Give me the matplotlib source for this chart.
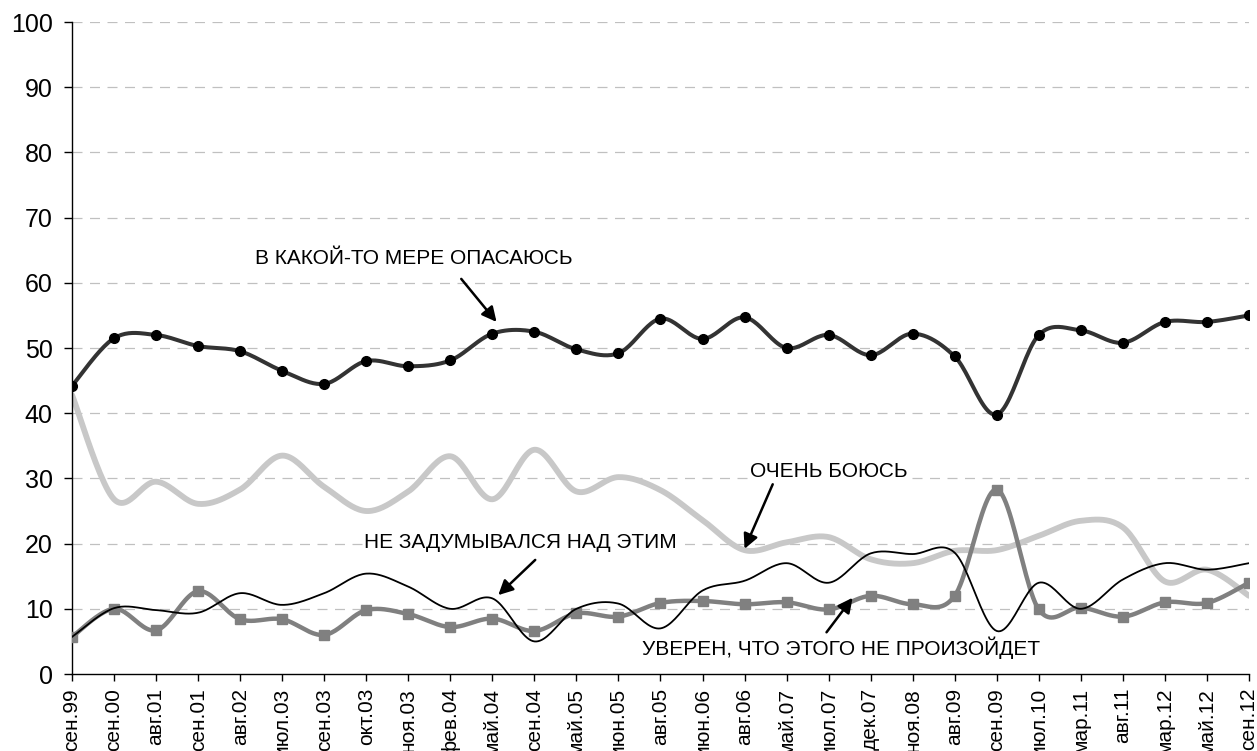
import numpy as np
import matplotlib
matplotlib.use("Agg")
import matplotlib.pyplot as plt

plt.rcParams['font.family'] = ['Liberation Sans', 'DejaVu Sans']

# подписи по оси X
labels = ['сен.99', 'сен.00', 'авг.01', 'сен.01', 'авг.02', 'июл.03', 'сен.03',
          'окт.03', 'ноя.03', 'фев.04', 'май.04', 'сен.04', 'май.05', 'июн.05',
          'авг.05', 'июн.06', 'авг.06', 'май.07', 'июл.07', 'дек.07', 'ноя.08',
          'авг.09', 'сен.09', 'июл.10', 'мар.11', 'авг.11', 'мар.12', 'май.12',
          'сен.12']

# В КАКОЙ-ТО МЕРЕ ОПАСАЮСЬ
somewhat = [44.2, 51.5, 52.0, 50.3, 49.5, 46.5, 44.5, 48.0, 47.2, 48.1,
            52.2, 52.5, 49.8, 49.2, 54.5, 51.4, 54.7, 50.0, 52.0, 48.9,
            52.2, 48.7, 39.8, 52.0, 52.7, 50.8, 54.0, 54.0, 55.0]
# ОЧЕНЬ БОЮСЬ
very = [42.8, 26.8, 29.5, 26.1, 28.3, 33.5, 28.7, 25.0, 28.0, 33.4,
        26.8, 34.4, 28.0, 30.2, 28.2, 23.6, 19.0, 20.2, 21.0, 17.6,
        17.0, 18.9, 19.0, 21.2, 23.5, 22.5, 14.2, 16.0, 12.0]
# УВЕРЕН, ЧТО ЭТОГО НЕ ПРОИЗОЙДЕТ
sure_not = [5.7, 10.0, 6.7, 12.7, 8.4, 8.4, 6.0, 9.8, 9.2, 7.2,
            8.5, 6.6, 9.3, 8.8, 10.9, 11.2, 10.7, 11.0, 9.9, 12.0,
            10.7, 12.0, 28.3, 9.9, 10.2, 8.8, 11.0, 10.9, 14.0]
# НЕ ЗАДУМЫВАЛСЯ НАД ЭТИМ
not_thought = [5.7, 10.1, 9.8, 9.4, 12.4, 10.6, 12.4, 15.4, 13.4, 10.0,
               11.6, 5.0, 10.0, 10.8, 7.0, 12.8, 14.3, 17.0, 14.0, 18.5,
               18.4, 18.6, 6.6, 14.0, 10.0, 14.5, 17.0, 16.0, 17.0]


def smooth(x, y, n=24):
    # сглаженная линия как в Excel (кривые Безье через точки)
    p = np.column_stack([x, y]).astype(float)
    p = np.vstack([p[0], p, p[-1]])
    out = []
    t = np.linspace(0, 1, n)[:, None]
    for i in range(1, len(p) - 2):
        p0, p1, p2, p3 = p[i - 1], p[i], p[i + 1], p[i + 2]
        c1 = p1 + (p2 - p0) / 6
        c2 = p2 - (p3 - p1) / 6
        seg = ((1 - t) ** 3) * p1 + 3 * ((1 - t) ** 2) * t * c1 + 3 * (1 - t) * t ** 2 * c2 + t ** 3 * p2
        out.append(seg if i == 1 else seg[1:])
    out = np.vstack(out)
    return out[:, 0], out[:, 1]


x = np.arange(len(labels))

fig = plt.figure(figsize=(12.57, 7.51), dpi=100)
ax = fig.add_axes([0.0573, 0.1025, 0.9363, 0.8682])

sx, sy = smooth(x, very)
ax.plot(sx, sy, color='#c8c8c8', lw=4.2, solid_capstyle='round', zorder=2)

sx, sy = smooth(x, sure_not)
ax.plot(sx, sy, color='#808080', lw=3.2, zorder=3)
ax.plot(x, sure_not, ls='none', marker='s', ms=7, color='#808080', zorder=3)

sx, sy = smooth(x, not_thought)
ax.plot(sx, sy, color='black', lw=1.3, zorder=4)

sx, sy = smooth(x, somewhat)
ax.plot(sx, sy, color='#333333', lw=2.9, zorder=5)
ax.plot(x, somewhat, ls='none', marker='o', ms=7, color='black', zorder=6)

ax.set_xlim(0, len(labels) - 1)
ax.set_ylim(0, 100)
ax.set_yticks(np.arange(0, 101, 10))
ax.set_xticks(x)
ax.set_xticklabels(labels, rotation=90, fontsize=15)
ax.tick_params(axis='y', labelsize=18, length=6, width=1, direction='out', pad=8)
ax.tick_params(axis='x', length=5, width=1, direction='out', pad=5)

for v in np.arange(10, 101, 10):
    ax.axhline(v, color='#c0c0c0', lw=0.9, dashes=(8, 6), zorder=1)

for s in ['top', 'right']:
    ax.spines[s].set_visible(False)
for s in ['left', 'bottom']:
    ax.spines[s].set_color('black')
    ax.spines[s].set_linewidth(1)

arrow = dict(arrowstyle='-|>', color='black', lw=1.8, mutation_scale=22, shrinkA=0, shrinkB=0)
fs = 15

ax.annotate('', xy=(10.1, 54.0), xytext=(9.26, 60.6), arrowprops=arrow, zorder=7)
ax.text(8.12, 63.8, 'В КАКОЙ-ТО МЕРЕ ОПАСАЮСЬ', ha='center', va='center', fontsize=fs)

ax.annotate('', xy=(16.0, 19.2), xytext=(16.67, 29.1), arrowprops=arrow, zorder=7)
ax.text(18.0, 31.0, 'ОЧЕНЬ БОЮСЬ', ha='center', va='center', fontsize=fs,
        bbox=dict(facecolor='white', edgecolor='none', pad=1))

ax.annotate('', xy=(10.14, 12.1), xytext=(11.02, 17.5), arrowprops=arrow, zorder=7)
ax.text(10.67, 20.1, 'НЕ ЗАДУМЫВАЛСЯ НАД ЭТИМ', ha='center', va='center', fontsize=fs,
        bbox=dict(facecolor='white', edgecolor='none', pad=1))

ax.annotate('', xy=(18.57, 11.7), xytext=(17.95, 6.4), arrowprops=arrow, zorder=7)
ax.text(18.29, 4.0, 'УВЕРЕН, ЧТО ЭТОГО НЕ ПРОИЗОЙДЕТ', ha='center', va='center', fontsize=fs)

fig.savefig('out.png', dpi=100)
